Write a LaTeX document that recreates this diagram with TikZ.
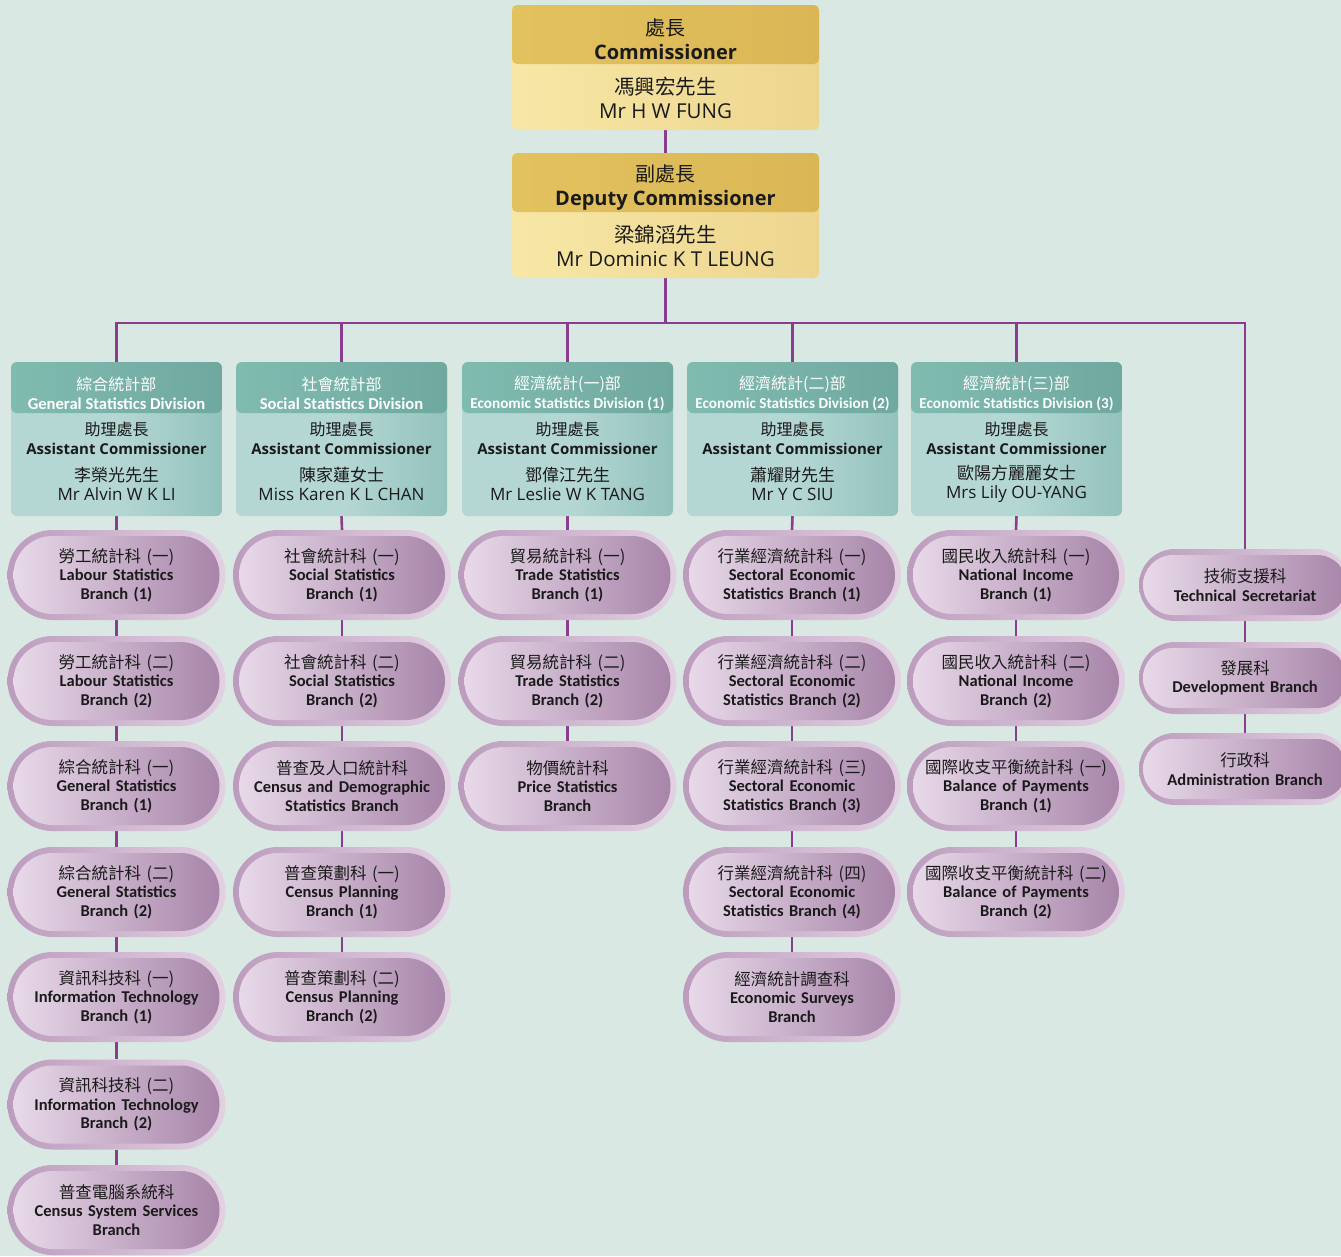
\documentclass[tikz,border=0pt]{standalone}
\usepackage{fontspec}
\setmainfont{Carlito}
\newfontfamily\cjk{Noto Sans CJK TC}
\newfontfamily\os{Open Sans}
\usetikzlibrary{shapes.misc}
\definecolor{bgc}{HTML}{D9E8E2}
\definecolor{linec}{HTML}{8A3D8E}
\definecolor{goldL}{HTML}{E2C25E}
\definecolor{goldM}{HTML}{F1D784}
\definecolor{goldR}{HTML}{DBB656}
\definecolor{goldB}{HTML}{F7E7A6}
\definecolor{goldBR}{HTML}{EDD58E}
\definecolor{tealL}{HTML}{80BBB0}
\definecolor{tealM}{HTML}{90C6BE}
\definecolor{tealR}{HTML}{6FA89F}
\definecolor{tealB}{HTML}{B5D7D4}
\definecolor{tealBR}{HTML}{93C2BD}
\definecolor{rimL}{HTML}{BC9CBD}
\definecolor{rimR}{HTML}{E3D1E3}
\definecolor{pinL}{HTML}{E8D9E9}
\definecolor{pinR}{HTML}{A785A9}
\definecolor{txt}{HTML}{1A1A1A}
\newcommand\zh[1]{{\cjk\mdseries #1}}
\pgfdeclarelayer{bglayer}
\pgfdeclarelayer{linelayer}
\pgfsetlayers{bglayer,linelayer,main}
\newcommand\pill[6]{%
  \node[pillo] (#1o) at (#2,#3) {};
  \node[pilli] (#1) at (#2,#3) {\zh{#4}\\#5\\#6};}
\newcommand\spill[5]{%
  \node[spillo] (#1o) at (#2,#3) {};
  \node[spilli] (#1) at (#2,#3) {\zh{#4}\\#5};}
\newcommand\division[7]{%
  \node[divbody] (#1) at (#2,439) {};
  \node[divhead] (#1h) at (#2,387.5) {};
  \node[divheadtext] (#1t) at (#2,393) {\zh{#3}\\{\fontsize{#7}{19}\selectfont #4}};
  \node[divrole] (#1r) at (#2,438.5) {{\fontsize{16}{19}\selectfont\zh{助理處長}}\\\bfseries Assistant Commissioner};
  \node[divname] (#1n) at (#2,483.5) {\zh{#5}\\#6};}
\begin{document}
\begin{tikzpicture}[x=1pt,y=-1pt,
  conn/.style={draw=linec, line width=2.6pt},
  pillo/.style={rectangle, minimum width=218, minimum height=90, rounded corners=45,
    left color=rimL, right color=rimR, inner sep=0},
  pilli/.style={rectangle, minimum width=206, minimum height=78, rounded corners=39,
    left color=pinL, right color=pinR, inner sep=0, text width=204, align=center,
    text=txt, font=\bfseries\fontsize{16.5}{18.5}\selectfont},
  spillo/.style={pillo, minimum width=212, minimum height=72, rounded corners=36},
  spilli/.style={pilli, minimum width=200, minimum height=60, rounded corners=30},
  divbody/.style={rectangle, minimum width=211, minimum height=154, rounded corners=6,
    left color=tealB, right color=tealBR, middle color=tealB, inner sep=0},
  divhead/.style={rectangle, minimum width=211, minimum height=51, rounded corners=6,
    left color=tealL, middle color=tealM, right color=tealR, inner sep=0},
  divheadtext/.style={align=center, inner sep=0, text=white,
    font=\bfseries\fontsize{16}{19}\selectfont},
  divrole/.style={align=center, inner sep=0, text=txt, font=\os\fontsize{15}{19}\selectfont},
  divname/.style={align=center, inner sep=0, text=txt, font=\os\fontsize{17}{19}\selectfont},
  topbody/.style={rectangle, minimum width=307, minimum height=125, rounded corners=5,
    left color=goldB, middle color=goldB, right color=goldBR, inner sep=0},
  tophead/.style={rectangle, minimum width=307, minimum height=59, rounded corners=5,
    left color=goldL, middle color=goldM, right color=goldR, inner sep=0},
  topheadtext/.style={align=center, inner sep=0, text=txt, font=\os\fontsize{20}{24}\selectfont},
  topname/.style={align=center, inner sep=0, text=txt, font=\os\fontsize{20.5}{24}\selectfont}
]
\useasboundingbox (0,0) rectangle (1341,1256);
\begin{pgfonlayer}{bglayer}
  \fill[bgc] (0,0) rectangle (1341,1256);
\end{pgfonlayer}

% top boxes
\node[topbody] (comm) at (665.5,67.5) {};
\node[tophead] (commh) at (665.5,34.5) {};
\node[topheadtext] (commt) at (665.5,39) {\zh{處長}\\\bfseries Commissioner};
\node[topname] (commn) at (665.5,97.5) {\zh{馮興宏先生}\\Mr H W FUNG};
\node[topbody] (dep) at (665.5,215.5) {};
\node[tophead] (deph) at (665.5,182.5) {};
\node[topheadtext] (dept) at (665.5,187) {\zh{副處長}\\\bfseries Deputy Commissioner};
\node[topname] (depn) at (665.5,245.5) {\zh{梁錦滔先生}\\Mr Dominic K T LEUNG};
\coordinate (bus) at (665.5,323);

% divisions
\division{d1}{116.5}{綜合統計部}{General Statistics Division}{李榮光先生}{Mr Alvin W K LI}{16.6}
\division{d2}{341.5}{社會統計部}{Social Statistics Division}{陳家蓮女士}{Miss Karen K L CHAN}{16.6}
\division{d3}{567.5}{經濟統計(一)部}{Economic Statistics Division (1)}{鄧偉江先生}{Mr Leslie W K TANG}{15.2}
\division{d4}{792.5}{經濟統計(二)部}{Economic Statistics Division (2)}{蕭耀財先生}{Mr Y C SIU}{15.2}
\division{d5}{1016.5}{經濟統計(三)部}{Economic Statistics Division (3)}{歐陽方麗麗女士}{Mrs Lily OU-YANG}{15.2}

% column 1
\pill{a1}{116.5}{575}{勞工統計科 (一)}{Labour Statistics}{Branch (1)}
\pill{a2}{116.5}{681}{勞工統計科 (二)}{Labour Statistics}{Branch (2)}
\pill{a3}{116.5}{786}{綜合統計科 (一)}{General Statistics}{Branch (1)}
\pill{a4}{116.5}{892}{綜合統計科 (二)}{General Statistics}{Branch (2)}
\pill{a5}{116.5}{997}{資訊科技科 (一)}{Information Technology}{Branch (1)}
\pill{a6}{116.5}{1104.5}{資訊科技科 (二)}{Information Technology}{Branch (2)}
\pill{a7}{116.5}{1210}{普查電腦系統科}{Census System Services}{Branch}
% column 2
\pill{b1}{342}{575}{社會統計科 (一)}{Social Statistics}{Branch (1)}
\pill{b2}{342}{681}{社會統計科 (二)}{Social Statistics}{Branch (2)}
\pill{b3}{342}{786}{普查及人口統計科}{Census and Demographic}{Statistics Branch}
\pill{b4}{342}{892}{普查策劃科 (一)}{Census Planning}{Branch (1)}
\pill{b5}{342}{997}{普查策劃科 (二)}{Census Planning}{Branch (2)}
% column 3
\pill{c1}{567.5}{575}{貿易統計科 (一)}{Trade Statistics}{Branch (1)}
\pill{c2}{567.5}{681}{貿易統計科 (二)}{Trade Statistics}{Branch (2)}
\pill{c3}{567.5}{786}{物價統計科}{Price Statistics}{Branch}
% column 4
\pill{e1}{792}{575}{行業經濟統計科 (一)}{Sectoral Economic}{Statistics Branch (1)}
\pill{e2}{792}{681}{行業經濟統計科 (二)}{Sectoral Economic}{Statistics Branch (2)}
\pill{e3}{792}{786}{行業經濟統計科 (三)}{Sectoral Economic}{Statistics Branch (3)}
\pill{e4}{792}{892}{行業經濟統計科 (四)}{Sectoral Economic}{Statistics Branch (4)}
\pill{e5}{792}{997}{經濟統計調查科}{Economic Surveys}{Branch}
% column 5
\pill{f1}{1016}{575}{國民收入統計科 (一)}{National Income}{Branch (1)}
\pill{f2}{1016}{681}{國民收入統計科 (二)}{National Income}{Branch (2)}
\pill{f3}{1016}{786}{國際收支平衡統計科 (一)}{Balance of Payments}{Branch (1)}
\pill{f4}{1016}{892}{國際收支平衡統計科 (二)}{Balance of Payments}{Branch (2)}
% right column
\spill{g1}{1245}{585}{技術支援科}{Technical Secretariat}
\spill{g2}{1245}{678}{發展科}{Development Branch}
\spill{g3}{1245}{769}{行政科}{Administration Branch}

\begin{pgfonlayer}{linelayer}
  \draw[conn] (comm.south) -- (dep.north);
  \draw[conn] (dep.south) -- (bus);
  \draw[conn] (d1.north) |- (g1o.north |- bus) -- (g1o.north);
  \foreach \d in {d2,d3,d4,d5} \draw[conn] (\d.north) -- (\d.north |- bus);
  \foreach \u/\v in {d1/a1o,a1o/a2o,a2o/a3o,a3o/a4o,a4o/a5o,a5o/a6o,a6o/a7o,
                     d2/b1o,b1o/b2o,b2o/b3o,b3o/b4o,b4o/b5o,
                     d3/c1o,c1o/c2o,c2o/c3o,
                     d4/e1o,e1o/e2o,e2o/e3o,e3o/e4o,e4o/e5o,
                     d5/f1o,f1o/f2o,f2o/f3o,f3o/f4o,
                     g1o/g2o,g2o/g3o}
    \draw[conn] (\u.south) -- (\v.north);
\end{pgfonlayer}
\end{tikzpicture}
\end{document}
